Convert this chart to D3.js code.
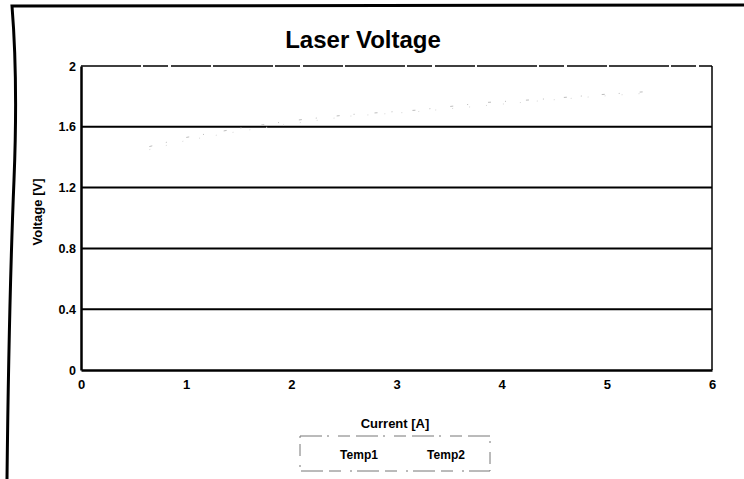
<!DOCTYPE html>
<html>
<head>
<meta charset="utf-8">
<script src="https://cdn.jsdelivr.net/npm/d3@7"></script>
<style>
  body { margin: 0; background: #fff; }
  text { font-family: "Liberation Sans", Arial, sans-serif; font-weight: bold; fill: #000; }
</style>
</head>
<body>
<script>
// values (the traces are very faint)
const current = [0.65, 1.0, 1.5, 2.0, 2.55, 3.2, 3.85, 4.35, 4.9, 5.35];
const temp1 = [1.47, 1.53, 1.59, 1.64, 1.68, 1.71, 1.76, 1.78, 1.81, 1.83];
const temp2 = [1.45, 1.51, 1.57, 1.62, 1.67, 1.70, 1.74, 1.77, 1.80, 1.82];
const seriesNames = ['Temp1', 'Temp2'];
const yTicks = [0, 0.4, 0.8, 1.2, 1.6, 2];
const xTicks = [0, 1, 2, 3, 4, 5, 6];

const w = 744, h = 479;
const svg = d3.select('body').append('svg')
              .attr('width', w)
              .attr('height', h)

// outer frame of the scanned figure
svg.append('path')
   .attr('d', 'M744,5 L12,6 Q18,80 14,180 Q9,300 7,479')
   .attr('fill', 'none')
   .attr('stroke', '#000')
   .attr('stroke-width', 3)

const x = d3.scaleLinear().domain([0, 6]).range([81, 712]);
const y = d3.scaleLinear().domain([0, 2]).range([370, 66]);

// gridlines
svg.append('g')
   .selectAll('line')
   .data(yTicks.filter(d => d > 0 && d < 2))
   .enter()
   .append('line')
   .attr('x1', x(0)).attr('x2', x(6))
   .attr('y1', d => y(d)).attr('y2', d => y(d))
   .attr('stroke', '#000')
   .attr('stroke-width', 2)

// plot frame
svg.append('line')
   .attr('x1', x(0)).attr('x2', x(6))
   .attr('y1', y(2)).attr('y2', y(2))
   .attr('stroke', '#000').attr('stroke-width', 1.5)
   .attr('stroke-dasharray', '60 2 25 3 40 2')
svg.append('line')
   .attr('x1', x(6)).attr('x2', x(6))
   .attr('y1', y(2)).attr('y2', y(0))
   .attr('stroke', '#000').attr('stroke-width', 1.5)

const yAxis = d3.axisLeft(y).tickValues(yTicks).tickSize(0).tickPadding(5)
                .tickFormat(d => d);
const gy = svg.append('g')
              .attr('transform', `translate(${x(0)},0)`)
              .call(yAxis)
gy.select('.domain').attr('stroke-width', 2.5)
gy.selectAll('text').style('font-size', '12.5px')

const xAxis = d3.axisBottom(x).tickValues(xTicks).tickSize(0).tickPadding(10)
                .tickFormat(d3.format('d'));
const gx = svg.append('g')
              .attr('transform', `translate(0,${y(0)})`)
              .call(xAxis)
gx.select('.domain').attr('stroke-width', 2.5)
gx.selectAll('text').style('font-size', '13px')

// faint traces
const line = d3.line().x((d, i) => x(current[i])).y(d => y(d));
svg.append('path')
   .datum(temp1)
   .attr('d', line)
   .attr('fill', 'none')
   .attr('stroke', '#bdbdbd')
   .attr('stroke-width', 1)
   .attr('stroke-dasharray', '3 14 1 20')
svg.append('path')
   .datum(temp2)
   .attr('d', line)
   .attr('fill', 'none')
   .attr('stroke', '#d8d8d8')
   .attr('stroke-width', 1)
   .attr('stroke-dasharray', '1 16')

// titles
svg.append('text')
   .attr('x', 363).attr('y', 48)
   .attr('text-anchor', 'middle')
   .style('font-size', '24px')
   .text('Laser Voltage')
svg.append('text')
   .attr('x', 395).attr('y', 428)
   .attr('text-anchor', 'middle')
   .style('font-size', '13px')
   .text('Current [A]')
svg.append('text')
   .attr('transform', 'translate(42,212) rotate(-90)')
   .attr('text-anchor', 'middle')
   .style('font-size', '13px')
   .text('Voltage [V]')

// legend
const legend = svg.append('g').attr('id', 'legend')
legend.append('rect')
      .attr('x', 300).attr('y', 436)
      .attr('width', 190).attr('height', 35)
      .attr('fill', 'none')
      .attr('stroke', '#777')
      .attr('stroke-width', 1)
      .attr('stroke-dasharray', '22 5 2 9 12 6')
legend.selectAll('text.item')
      .data(seriesNames)
      .enter()
      .append('text')
      .attr('class', 'item')
      .attr('x', (d, i) => 359 + i * 87)
      .attr('y', 459)
      .attr('text-anchor', 'middle')
      .style('font-size', '12px')
      .text(d => d)
</script>
</body>
</html>
